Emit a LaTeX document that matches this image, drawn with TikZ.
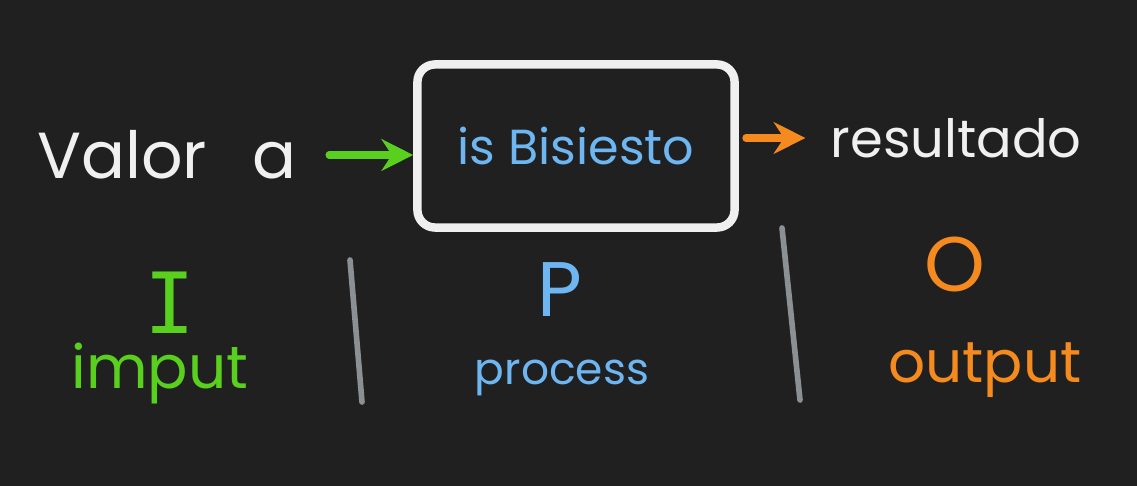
\documentclass[tikz,border=0pt]{standalone}
\usepackage{fontspec}
\setmainfont{Poppins}
\newfontfamily\barfont{DejaVu Sans Mono}
\usetikzlibrary{arrows.meta}
\definecolor{bg}{HTML}{202020}
\definecolor{chalk}{HTML}{F0F0F0}
\definecolor{ingreen}{HTML}{5AD01E}
\definecolor{problue}{HTML}{6DB6F2}
\definecolor{outorange}{HTML}{F58A1F}
\definecolor{rulegray}{HTML}{8A9094}
\begin{document}
\begin{tikzpicture}[
    x=0.01cm, y=-0.01cm,
    every node/.style={align=center, inner sep=0pt},
    flow/.style={line width=2pt, line cap=round, -{Stealth[length=9pt, width=9pt]}},
    divider/.style={rulegray, line width=1.6pt, line cap=round},
    letter/.style={font=\fontsize{22}{26}\selectfont},
    ]
    \fill[bg] (0,0) rectangle (1137,486);
    \useasboundingbox (0,0) rectangle (1137,486);

    % Row 1: Flow
    \node[text=chalk, font=\fontsize{18.5}{22}\selectfont] (valor) at (167,155) {Valor\hspace{0.7em}a};
    \node[draw=chalk, line width=2.4pt, rounded corners=5pt,
          minimum width=3.17cm, minimum height=1.63cm, text=problue,
          font=\fontsize{14}{17}\selectfont] (box) at (576,146) {is Bisiesto};
    \node[text=chalk, anchor=west, font=\fontsize{15}{18}\selectfont] (resultado) at (830,138) {resultado};

    % Row 2: Letters
    \node[text=ingreen, letter, font=\barfont\fontsize{24}{28}\selectfont] (I) at (170,303) {I};
    \node[text=problue, letter] (P) at (560,290) {P};
    \node[text=outorange, letter] (O) at (955,265) {O};

    % Row 3: Words
    \node[text=ingreen, font=\fontsize{17}{20}\selectfont] (imput) at (160,374) {imput};
    \node[text=problue, font=\fontsize{12.5}{15}\selectfont] (process) at (562,378) {process};
    \node[text=outorange, font=\fontsize{16.5}{20}\selectfont] (output) at (985,370) {output};

    % Edges
    \draw[flow, ingreen, shorten <=9pt] (valor.east) -- (box.west |- valor.east);
    \draw[flow, outorange, shorten <=2pt, shorten >=7pt] (box.east |- resultado.west) -- (resultado.west);

    % Dividers
    \draw[divider] (350,260) -- (362,402);
    \draw[divider] (782,228) -- (800,400);
\end{tikzpicture}
\end{document}
